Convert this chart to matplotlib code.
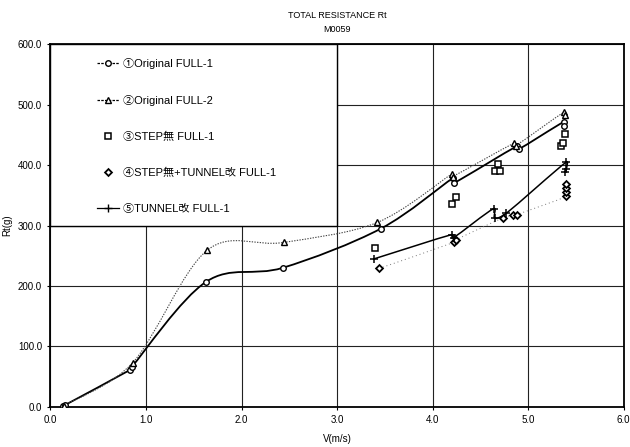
import numpy as np
import matplotlib
matplotlib.use("Agg")
from matplotlib import pyplot as plt
from matplotlib.path import Path
from matplotlib.patches import PathPatch, Rectangle
from matplotlib.lines import Line2D

plt.rcParams.update({'font.size': 7,
                     'font.family': ['Liberation Sans', 'Noto Sans CJK JP', 'DejaVu Sans']})

# speed V (m/s) and total resistance Rt (g)
v_orig1 = [0.13, 0.15, 0.83, 0.85, 1.63, 2.43, 3.46, 4.21, 4.22, 4.88, 4.90, 5.37, 5.38]
rt_orig1 = [1, 3, 61, 66, 207, 230, 295, 378, 370, 431, 426, 471, 464]

v_orig2 = [0.14, 0.86, 1.64, 2.44, 3.42, 4.20, 4.21, 4.85, 4.87, 5.38, 5.39]
rt_orig2 = [2, 73, 259, 272, 305, 385, 381, 436, 432, 488, 482]

v_step = [3.40, 4.20, 4.24, 4.65, 4.68, 4.71, 5.34, 5.36, 5.39]
rt_step = [262, 335, 347, 390, 401, 390, 431, 437, 451]

v_step_tun = [3.44, 4.22, 4.24, 4.74, 4.84, 4.88, 5.40, 5.40, 5.40, 5.40]
rt_step_tun = [229, 272, 276, 313, 317, 318, 348, 355, 362, 368]

v_tun = [3.39, 4.20, 4.22, 4.64, 4.65, 4.77, 5.40, 5.40, 5.39]
rt_tun = [245, 285, 280, 328, 312, 320, 405, 393, 388]

labels = ['①Original FULL-1', '②Original FULL-2', '③STEP無 FULL-1',
          '④STEP無+TUNNEL改 FULL-1', '⑤TUNNEL改 FULL-1']

x_ticks = np.arange(0, 6.1, 1.0)
y_ticks = np.arange(0, 601, 100)


def smooth_line(ax, xs, ys, **kw):
    # Excel-like smoothed line: Catmull-Rom handles (1/6), clamped on short segments
    sx, sy = 574 / 6.0, 363 / 600.0
    p = np.column_stack([np.asarray(xs) * sx, np.asarray(ys) * sy])
    n = len(p)
    verts = [p[0]]
    codes = [Path.MOVETO]
    for i in range(n - 1):
        a, b = p[i], p[i + 1]
        seg = np.linalg.norm(b - a)
        t0 = (p[min(i + 1, n - 1)] - p[max(i - 1, 0)]) / 6.0
        t1 = (p[min(i + 2, n - 1)] - p[i]) / 6.0
        for t in (t0, t1):
            ln = np.linalg.norm(t)
            if ln > 0.4 * seg and ln > 0:
                t *= 0.4 * seg / ln
        verts += [a + t0, b - t1, b]
        codes += [Path.CURVE4] * 3
    verts = np.array(verts) / [sx, sy]
    ax.add_patch(PathPatch(Path(verts, codes), fill=False, **kw))


fig = plt.figure(figsize=(6.3, 4.47), dpi=100)
ax = fig.add_axes([0.080, 0.0895, 0.910, 0.812])

ax.set(xlim=[0, 6], ylim=[0, 600], xticks=x_ticks, yticks=y_ticks)
ax.set_xticklabels(['%.1f' % t for t in x_ticks])
ax.set_yticklabels(['%.1f' % t for t in y_ticks])
ax.grid(True, color='#222222', linewidth=0.8)
ax.set_axisbelow(True)
for s in ax.spines.values():
    s.set_linewidth(1.3)
ax.tick_params(length=2, width=0.8, pad=4)

# legend box covering the upper left quarter
ax.add_patch(Rectangle((0, 0.5), 0.5, 0.5, transform=ax.transAxes,
                       facecolor='white', edgecolor='black', lw=1.0, zorder=1.5))

smooth_line(ax, v_orig1, rt_orig1, color='black', lw=1.3, zorder=3)
smooth_line(ax, v_orig2, rt_orig2, color='#444444', lw=0.8, ls=(0, (1.2, 1.2)), zorder=3)
smooth_line(ax, v_step_tun, rt_step_tun, color='#777777', lw=0.7, ls=(0, (1, 3)), zorder=3)
smooth_line(ax, v_tun, rt_tun, color='black', lw=1.1, zorder=3)

mk = dict(linestyle='none', color='black', mfc='white', zorder=4)
ax.plot(v_orig1, rt_orig1, marker='o', ms=4, mew=1.0, **mk)
ax.plot(v_orig2, rt_orig2, marker='^', ms=4.5, mew=1.0, **mk)
ax.plot(v_step, rt_step, marker='s', ms=4.5, mew=1.1, **mk)
ax.plot(v_step_tun, rt_step_tun, marker='D', ms=3.5, mew=1.3, **mk)
ax.plot(v_tun, rt_tun, marker='+', ms=6, mew=1.1, **mk)

handles = [
    Line2D([], [], color='black', lw=0.9, ls=(0, (2, 1)), marker='o', ms=4, mfc='white'),
    Line2D([], [], color='black', lw=0.9, ls=(0, (2, 1)), marker='^', ms=4, mfc='white'),
    Line2D([], [], color='black', ls='none', marker='s', ms=4, mew=1.1, mfc='white'),
    Line2D([], [], color='black', ls='none', marker='D', ms=3.5, mew=1.3, mfc='white'),
    Line2D([], [], color='black', lw=0.9, marker='+', ms=6),
]
ax.legend(handles, labels, loc='upper left', bbox_to_anchor=(0.063, 0.99),
          frameon=False, fontsize=8, labelspacing=2.33, handlelength=2.0,
          handletextpad=0.4)

fig.text(0.535, 0.965, 'TOTAL RESISTANCE Rt', ha='center', va='center', fontsize=6.5)
fig.text(0.535, 0.933, 'M0059', ha='center', va='center', fontsize=6.5)
ax.set_ylabel('Rt(g)', fontsize=7, labelpad=4)
ax.set_xlabel('V(m/s)', fontsize=7, labelpad=6)

fig.savefig('out.png', dpi=100)
